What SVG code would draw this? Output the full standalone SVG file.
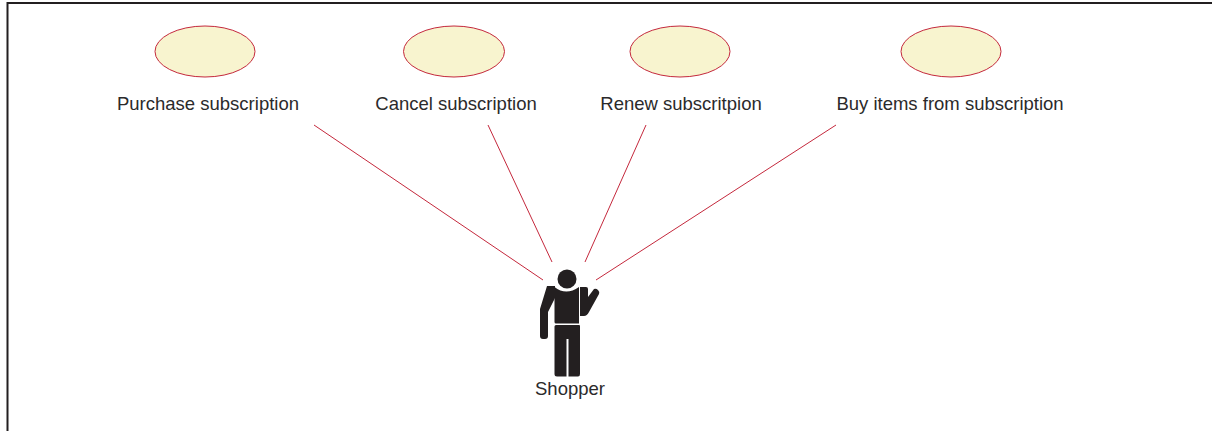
<svg xmlns="http://www.w3.org/2000/svg" width="1212" height="431" viewBox="0 0 1212 431">
<style>
.uc{fill:#f8f4cf;stroke:#c4283c;stroke-width:1}
.t{font-family:"Liberation Sans",Arial,sans-serif;font-size:18.5px;fill:#2b2a2b;text-anchor:middle}
.c line{stroke:#c4283c;stroke-width:1;fill:none}
.b{fill:#231f20}
</style>
<rect width="1212" height="431" fill="#fff"/>
<path d="M7.500 431V3H1212" fill="none" stroke="#231f20" stroke-width="2"/>
<g id="connectors" class="c">
<line x1="314" y1="125" x2="543" y2="280"/>
<line x1="488" y1="125" x2="552" y2="262"/>
<line x1="646" y1="125" x2="585" y2="262"/>
<line x1="836" y1="125" x2="596" y2="280"/>
</g>
<g id="uc1"><ellipse class="uc" cx="205" cy="51.500" rx="50" ry="25.500"/><text class="t" x="208" y="110">Purchase subscription</text></g>
<g id="uc2"><ellipse class="uc" cx="454" cy="51.500" rx="50.500" ry="25.500"/><text class="t" x="456" y="110">Cancel subscription</text></g>
<g id="uc3"><ellipse class="uc" cx="680" cy="51.500" rx="50" ry="25.500"/><text class="t" x="681" y="110">Renew subscritpion</text></g>
<g id="uc4"><ellipse class="uc" cx="951" cy="51.500" rx="50" ry="25.500"/><text class="t" x="950" y="110">Buy items from subscription</text></g>
<g id="shopper">
<circle class="b" cx="567" cy="279" r="9.500"/>
<path class="b" d="M554.500 287Q566 296 579 287V323.500H556Q554.500 323.500 554.500 322Z"/>
<path class="b" d="M547 286H555V298L548 312V336Q548 339 545 339H543Q540 339 540 336V309Z"/>
<path class="b" d="M580 287H586Q588 287 588 289V297L594 289Q596 288 598 290Q600 292 599 294L589 312Q587 316 584 316H580Z"/>
<path class="b" d="M556 325H579Q580 325 580 326V374Q580 376.500 578 376.500H568.500V339H566.500V376.500H557Q554.500 376.500 554.500 374V326.500Q554.500 325 556 325Z"/>
<text class="t" x="570" y="395">Shopper</text>
</g>
</svg>
